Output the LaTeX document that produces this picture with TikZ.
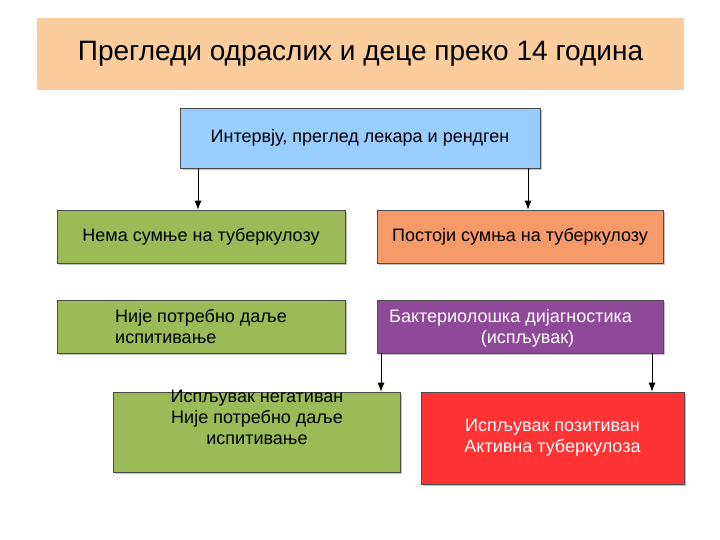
\documentclass[tikz,border=0pt]{standalone}
\usepackage{fontspec}
\setmainfont{Liberation Sans}
\usetikzlibrary{shadows,arrows.meta}
\definecolor{peach}{HTML}{FBCC9C}
\definecolor{lblue}{HTML}{99CCFF}
\definecolor{grn}{HTML}{9BBB59}
\definecolor{orng}{HTML}{F79A6A}
\definecolor{purp}{HTML}{8E4A98}
\definecolor{rd}{HTML}{FF3333}
\tikzset{
  bx/.style={draw=black!70, line width=0.6pt, inner sep=2pt, font=\fontsize{18}{21}\selectfont, align=center, drop shadow={shadow xshift=2pt, shadow yshift=-2pt, fill=black!40, opacity=0.6}},
  txt/.style={font=\fontsize{18}{21}\selectfont},
  arr/.style={-{Latex[length=9pt,width=7pt]}, line width=0.9pt}
}
\begin{document}
\begin{tikzpicture}[x=1pt,y=-1pt]
\useasboundingbox (0,0) rectangle (720,540);
\node[fill=peach, minimum width=647pt, minimum height=72pt, font=\fontsize{28}{32}\selectfont] (t) at (360.5,54) {Прегледи одраслих и деце преко 14 година};
\node[bx, fill=lblue, minimum width=360pt, minimum height=60pt] (a) at (360,138) {Интервју, преглед лекара и рендген};
\node[bx, fill=grn, minimum width=288pt, minimum height=53pt] (b) at (201,236.5) {Нема сумње на туберкулозу};
\node[bx, fill=orng, minimum width=286pt, minimum height=53pt] (c) at (520,236.5) {Постоји сумња на туберкулозу};
\node[bx, fill=grn, minimum width=288pt, minimum height=53pt] (d) at (201,326.5) {};
\node[txt, anchor=west, align=left, inner sep=0pt] (dt) at (115,326.5) {Није потребно даље\\испитивање};
\node[bx, fill=purp, minimum width=286pt, minimum height=53pt] (e) at (520,326.5) {};
\node[txt, text=white, anchor=west, inner sep=0pt] (e1) at (389,318) {Бактериолошка дијагностика};
\node[txt, text=white, inner sep=0pt] (e2) at (527.5,339) {(испљувак)};
\node[bx, fill=grn, minimum width=287pt, minimum height=80pt] (f) at (256.5,432) {};
\node[txt, align=center, anchor=north, inner sep=0pt] (ft) at (257,390) {Испљувак негативан\\Није потребно даље\\испитивање};
\node[bx, fill=rd, text=white, minimum width=263pt, minimum height=92pt] (g) at (552.5,438) {Испљувак позитиван\\Активна туберкулоза};
\draw[arr] (a.south -| 198,0) -- (b.north -| 198,0);
\draw[arr] (a.south -| 528,0) -- (c.north -| 528,0);
\draw[arr] (e.south -| 381,0) -- (f.north -| 381,0);
\draw[arr] (e.south -| 652,0) -- (g.north -| 652,0);
\end{tikzpicture}
\end{document}
